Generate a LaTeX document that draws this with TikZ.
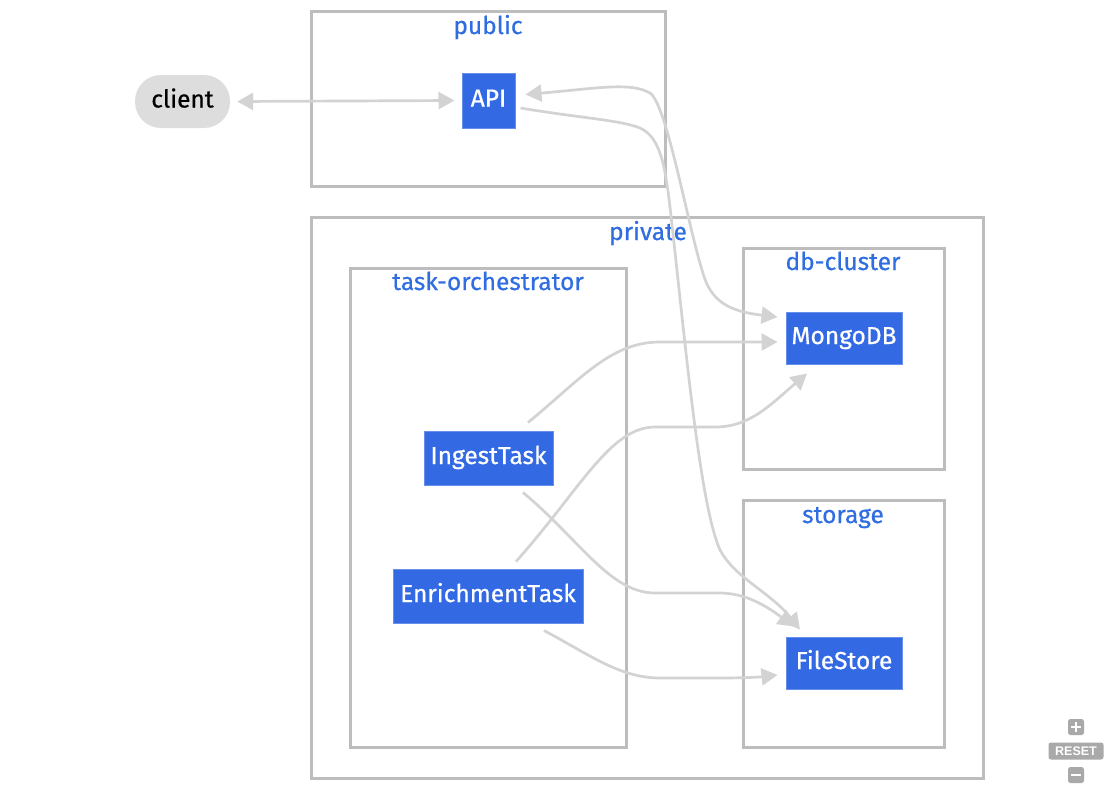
\documentclass[tikz,border=0pt]{standalone}
\usepackage{fontspec}
\setmainfont{Fira Sans}[FakeBold=0.6]
\newfontfamily\resetfont{Liberation Sans}
\usetikzlibrary{arrows.meta,calc}
\definecolor{nodeblue}{HTML}{336AE4}
\definecolor{labelblue}{HTML}{2F6DE1}
\definecolor{clusterline}{HTML}{BDBDBD}
\definecolor{edgegray}{HTML}{D3D3D3}
\definecolor{clientfill}{HTML}{DDDDDD}
\definecolor{ctrlgray}{HTML}{A9A9A9}
\begin{document}
\begin{tikzpicture}[x=1pt,y=-1pt,
  svc/.style={rectangle, fill=nodeblue, draw=nodeblue!75!white, line width=1pt, text=white, font=\fontsize{24.5}{28}\selectfont, inner sep=0pt, text height=17pt, text depth=5pt},
  cluster/.style={rectangle, draw=clusterline, line width=3pt, inner sep=0pt},
  clabel/.style={text=labelblue, font=\fontsize{24.5}{28}\selectfont, inner sep=0pt, text height=17pt, text depth=5pt},
  edgeline/.style={draw=edgegray, line width=2.7pt, -{Triangle[length=16pt,width=17pt]}},
  edgeboth/.style={draw=edgegray, line width=2.7pt, {Triangle[length=16pt,width=17pt]}-{Triangle[length=16pt,width=17pt]}},
  ctrl/.style={fill=ctrlgray, rounded corners=2.5pt, inner sep=0pt},
]
\useasboundingbox (0,0) rectangle (1115,792);

% clusters
\node[cluster, minimum width=354pt, minimum height=174pt] (public) at (488,99) {};
\node[clabel] (publiclbl) at (488,28) {public};
\node[cluster, minimum width=672pt, minimum height=561pt] (private) at (647,497.5) {};
\node[clabel] (privatelbl) at (648,234) {private};
\node[cluster, minimum width=276pt, minimum height=479pt] (orch) at (488,507.5) {};
\node[clabel] (orchlbl) at (488,284) {task-orchestrator};
\node[cluster, minimum width=201pt, minimum height=221pt] (dbc) at (843.5,358.5) {};
\node[clabel] (dbclbl) at (843,264) {db-cluster};
\node[cluster, minimum width=201pt, minimum height=247pt] (stor) at (843.5,623.5) {};
\node[clabel] (storlbl) at (843,517) {storage};

% nodes
\node[rectangle, fill=clientfill, rounded corners=26pt, minimum width=95pt, minimum height=53pt, inner sep=0pt, font=\fontsize{24.5}{28}\selectfont, text height=17pt, text depth=5pt] (client) at (182.5,101.5) {client};
\node[svc, minimum width=53pt, minimum height=55pt] (API) at (488.5,100.5) {API};
\node[svc, minimum width=116pt, minimum height=52pt] (MongoDB) at (844,338) {MongoDB};
\node[svc, minimum width=116pt, minimum height=52pt] (FileStore) at (844,663) {FileStore};
\node[svc, minimum width=129pt, minimum height=54pt] (IngestTask) at (488.5,458) {IngestTask};
\node[svc, minimum width=190pt, minimum height=54pt] (EnrichmentTask) at (488,596) {EnrichmentTask};

% edges
\draw[edgeboth] ($(client.east)+(7,0)$) -- ($(API.west)+(-7,0)$);
\draw[edgeboth] ($(API.east)+(10,-6)$) .. controls (600,88) and (630,82) .. (650,93)
  .. controls (668,105) and (690,240) .. (706,282)
  .. controls (716,305) and (735,312) .. ($(MongoDB.west)+(-8,-21)$);
\draw[edgeline] ($(API.east)+(5,7.5)$) .. controls (580,118) and (620,120) .. (640,128)
  .. controls (662,138) and (666,170) .. (672,225)
  .. controls (686,350) and (700,505) .. (720,550)
  .. controls (735,578) and (770,592) .. ($(FileStore.north)+(-44,-7)$);
\draw[edgeline] ($(IngestTask.north)+(39.5,-8)$) .. controls (580,380) and (610,342) .. (660,342)
  -- ($(MongoDB.west)+(-8,4)$);
\draw[edgeline] ($(EnrichmentTask.north)+(28,-7)$) .. controls (580,490) and (610,427) .. (655,427)
  -- (715,427) .. controls (750,427) and (770,405) .. ($(MongoDB.south)+(-37,9)$);
\draw[edgeline] ($(IngestTask.south)+(34.5,7)$) .. controls (580,540) and (610,593) .. (655,593)
  -- (719,593) .. controls (745,593) and (765,605) .. ($(FileStore.north)+(-50,-10)$);
\draw[edgeline] ($(EnrichmentTask.south)+(56,7)$) .. controls (590,655) and (620,678) .. (660,678)
  -- (720,678) .. controls (745,678) and (760,677) .. ($(FileStore.west)+(-8,12)$);

% zoom controls
\node[ctrl, minimum width=16pt, minimum height=16pt] (zin) at (1076,727) {};
\draw[white, line width=2.5pt] ($(zin.center)+(-5,0)$) -- ($(zin.center)+(5,0)$);
\draw[white, line width=2.5pt] ($(zin.center)+(0,-5)$) -- ($(zin.center)+(0,5)$);
\node[ctrl, minimum width=55pt, minimum height=17pt, text=white, font=\resetfont\bfseries\fontsize{12.5}{13}\selectfont] (zreset) at (1076,751) {RESET};
\node[ctrl, minimum width=16pt, minimum height=16pt] (zout) at (1076,775) {};
\draw[white, line width=2.5pt] ($(zout.center)+(-5,0)$) -- ($(zout.center)+(5,0)$);
\end{tikzpicture}
\end{document}
